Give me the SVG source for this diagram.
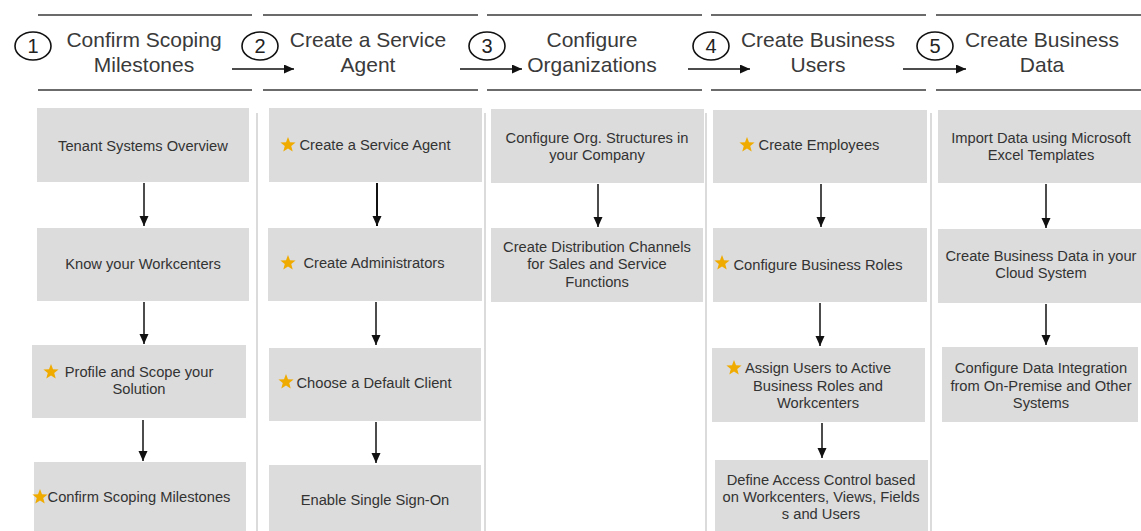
<svg xmlns="http://www.w3.org/2000/svg" width="1141" height="531" viewBox="0 0 1141 531">
  <style>
    .rule { stroke: #3a3a3a; stroke-width: 1.6; fill: none; }
    .sep { stroke: #cfcfcf; stroke-width: 1.5; fill: none; }
    .num { fill: none; stroke: #111; stroke-width: 1.6; }
    .numtxt { font-family: "Liberation Sans", Arial, sans-serif; font-size: 20px; fill: #222; text-anchor: middle; }
    .head { font-family: "Liberation Sans", Arial, sans-serif; font-size: 21px; fill: #3a3a3a; text-anchor: middle; }
    .box { fill: #dcdcdc; }
    .lbl { font-family: "Liberation Sans", Arial, sans-serif; font-size: 14.7px; fill: #333; text-anchor: middle; }
    .conn { stroke: #111; stroke-width: 1.5; fill: none; marker-end: url(#head); }
    .star { fill: #f0ab00; }
  </style>
  <defs>
    <marker id="head" markerUnits="userSpaceOnUse" markerWidth="11" markerHeight="10" refX="10" refY="4.5" orient="auto">
      <path d="M0,0 L10,4.5 L0,9 Z" fill="#111"/>
    </marker>
    <path id="star" class="star" d="M0,-8 L2,-2.75 L7.61,-2.47 L3.23,1.05 L4.7,6.47 L0,3.4 L-4.7,6.47 L-3.23,1.05 L-7.61,-2.47 L-2,-2.75 Z"/>
  </defs>

  <rect width="1141" height="531" fill="#ffffff"/>

  <!-- header rules -->
  <g id="header-rules">
    <line class="rule" x1="38" y1="15" x2="252" y2="15"/>
    <line class="rule" x1="263" y1="15" x2="478" y2="15"/>
    <line class="rule" x1="487" y1="15" x2="702" y2="15"/>
    <line class="rule" x1="711" y1="15" x2="926" y2="15"/>
    <line class="rule" x1="936" y1="15" x2="1141" y2="15"/>
    <line class="rule" x1="38" y1="90" x2="252" y2="90"/>
    <line class="rule" x1="263" y1="90" x2="478" y2="90"/>
    <line class="rule" x1="487" y1="90" x2="702" y2="90"/>
    <line class="rule" x1="711" y1="90" x2="926" y2="90"/>
    <line class="rule" x1="936" y1="90" x2="1141" y2="90"/>
  </g>

  <!-- column separators -->
  <g id="separators">
    <line class="sep" x1="257" y1="113" x2="257" y2="531"/>
    <line class="sep" x1="485" y1="113" x2="485" y2="531"/>
    <line class="sep" x1="706" y1="113" x2="706" y2="531"/>
    <line class="sep" x1="931" y1="113" x2="931" y2="531"/>
  </g>

  <!-- phase headers -->
  <g id="phase-1">
    <ellipse class="num" cx="33" cy="46" rx="18" ry="14"/>
    <text class="numtxt" x="33" y="53">1</text>
    <text class="head" x="144" y="47">Confirm Scoping</text>
    <text class="head" x="144" y="72">Milestones</text>
  </g>
  <g id="phase-2">
    <ellipse class="num" cx="260" cy="46" rx="18" ry="14"/>
    <text class="numtxt" x="260" y="53">2</text>
    <text class="head" x="368" y="47">Create a Service</text>
    <text class="head" x="368" y="72">Agent</text>
  </g>
  <g id="phase-3">
    <ellipse class="num" cx="487" cy="46" rx="18" ry="14"/>
    <text class="numtxt" x="487" y="53">3</text>
    <text class="head" x="592" y="47">Configure</text>
    <text class="head" x="592" y="72">Organizations</text>
  </g>
  <g id="phase-4">
    <ellipse class="num" cx="711" cy="46" rx="18" ry="14"/>
    <text class="numtxt" x="711" y="53">4</text>
    <text class="head" x="818" y="47">Create Business</text>
    <text class="head" x="818" y="72">Users</text>
  </g>
  <g id="phase-5">
    <ellipse class="num" cx="935" cy="46" rx="18" ry="14"/>
    <text class="numtxt" x="935" y="53">5</text>
    <text class="head" x="1042" y="47">Create Business</text>
    <text class="head" x="1042" y="72">Data</text>
  </g>

  <!-- column 1 -->
  <g id="tenant-systems">
    <rect class="box" x="37" y="108" width="212" height="74"/>
    <text class="lbl" x="143" y="151">Tenant Systems Overview</text>
  </g>
  <g id="know-workcenters">
    <rect class="box" x="37" y="228" width="212" height="73"/>
    <text class="lbl" x="143" y="269">Know your Workcenters</text>
  </g>
  <g id="profile-scope">
    <rect class="box" x="32" y="345" width="214" height="73"/>
    <use href="#star" x="51" y="372"/>
    <text class="lbl" x="139" y="377">Profile and Scope your</text>
    <text class="lbl" x="139" y="394">Solution</text>
  </g>
  <g id="confirm-milestones">
    <rect class="box" x="34" y="462" width="212" height="69"/>
    <use href="#star" x="40" y="497"/>
    <text class="lbl" x="139" y="502">Confirm Scoping Milestones</text>
  </g>

  <!-- column 2 -->
  <g id="create-agent">
    <rect class="box" x="269" y="108" width="213" height="74"/>
    <use href="#star" x="288" y="145"/>
    <text class="lbl" x="375" y="150">Create a Service Agent</text>
  </g>
  <g id="create-admins">
    <rect class="box" x="268" y="228" width="214" height="73"/>
    <use href="#star" x="288" y="263"/>
    <text class="lbl" x="374" y="268">Create Administrators</text>
  </g>
  <g id="default-client">
    <rect class="box" x="269" y="348" width="212" height="73"/>
    <use href="#star" x="286" y="382"/>
    <text class="lbl" x="374" y="388">Choose a Default Client</text>
  </g>
  <g id="single-sign-on">
    <rect class="box" x="269" y="465" width="212" height="66"/>
    <text class="lbl" x="375" y="505">Enable Single Sign-On</text>
  </g>

  <!-- column 3 -->
  <g id="org-structures">
    <rect class="box" x="491" y="109" width="213" height="74"/>
    <text class="lbl" x="597" y="143">Configure Org. Structures in</text>
    <text class="lbl" x="597" y="160">your Company</text>
  </g>
  <g id="distribution-channels">
    <rect class="box" x="491" y="228" width="212" height="74"/>
    <text class="lbl" x="597" y="252">Create Distribution Channels</text>
    <text class="lbl" x="597" y="269">for Sales and Service</text>
    <text class="lbl" x="597" y="287">Functions</text>
  </g>

  <!-- column 4 -->
  <g id="create-employees">
    <rect class="box" x="713" y="110" width="214" height="73"/>
    <use href="#star" x="747" y="145"/>
    <text class="lbl" x="819" y="150">Create Employees</text>
  </g>
  <g id="business-roles">
    <rect class="box" x="713" y="228" width="214" height="74"/>
    <use href="#star" x="722" y="263"/>
    <text class="lbl" x="818" y="270">Configure Business Roles</text>
  </g>
  <g id="assign-users">
    <rect class="box" x="712" y="348" width="213" height="74"/>
    <use href="#star" x="734" y="368"/>
    <text class="lbl" x="818" y="373">Assign Users to Active</text>
    <text class="lbl" x="818" y="391">Business Roles and</text>
    <text class="lbl" x="818" y="408">Workcenters</text>
  </g>
  <g id="access-control">
    <rect class="box" x="715" y="460" width="213" height="71"/>
    <text class="lbl" x="821" y="485">Define Access Control based</text>
    <text class="lbl" x="821" y="502">on Workcenters, Views, Fields</text>
    <text class="lbl" x="821" y="519">s and Users</text>
  </g>

  <!-- column 5 -->
  <g id="import-data">
    <rect class="box" x="938" y="110" width="203" height="73"/>
    <text class="lbl" x="1041" y="143">Import Data using Microsoft</text>
    <text class="lbl" x="1041" y="160">Excel Templates</text>
  </g>
  <g id="business-data">
    <rect class="box" x="938" y="229" width="203" height="74"/>
    <text class="lbl" x="1041" y="261">Create Business Data in your</text>
    <text class="lbl" x="1041" y="278">Cloud System</text>
  </g>
  <g id="data-integration">
    <rect class="box" x="942" y="347" width="196" height="75"/>
    <text class="lbl" x="1041" y="373">Configure Data Integration</text>
    <text class="lbl" x="1041" y="391">from On-Premise and Other</text>
    <text class="lbl" x="1041" y="408">Systems</text>
  </g>

  <!-- connectors -->
  <g id="connectors">
    <line class="conn" x1="232" y1="69" x2="294" y2="69"/>
    <line class="conn" x1="460" y1="69" x2="522" y2="69"/>
    <line class="conn" x1="688" y1="69" x2="750" y2="69"/>
    <line class="conn" x1="903" y1="69" x2="966" y2="69"/>

    <line class="conn" x1="144" y1="183" x2="144" y2="226"/>
    <line class="conn" x1="144" y1="302" x2="144" y2="344"/>
    <line class="conn" x1="143" y1="420" x2="143" y2="461"/>

    <line class="conn" x1="377" y1="183" x2="377" y2="226" style="stroke-width:2"/>
    <line class="conn" x1="376" y1="302" x2="376" y2="345"/>
    <line class="conn" x1="376" y1="422" x2="376" y2="463"/>

    <line class="conn" x1="598" y1="184" x2="598" y2="227"/>

    <line class="conn" x1="821" y1="184" x2="821" y2="227"/>
    <line class="conn" x1="820" y1="303" x2="820" y2="346"/>
    <line class="conn" x1="822" y1="423" x2="822" y2="458"/>

    <line class="conn" x1="1046" y1="184" x2="1046" y2="228"/>
    <line class="conn" x1="1046" y1="304" x2="1046" y2="345"/>
  </g>
</svg>
